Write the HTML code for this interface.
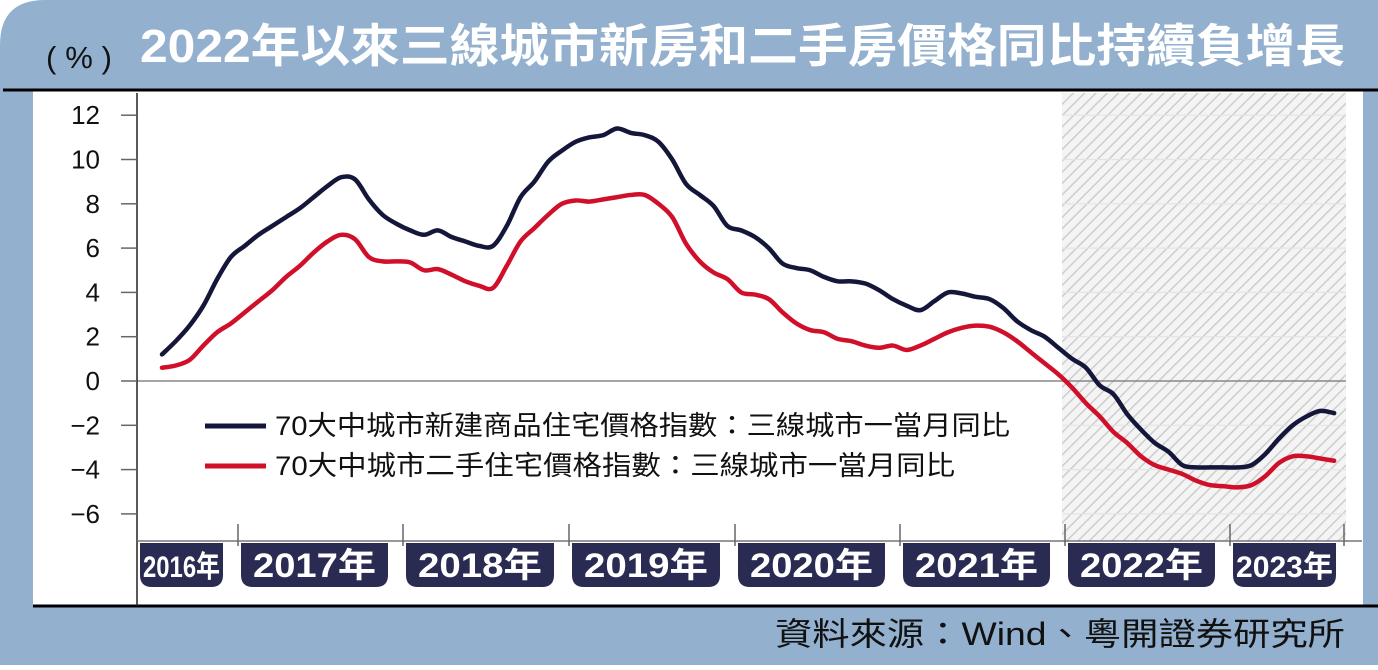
<!DOCTYPE html>
<html><head><meta charset="utf-8"><style>
body{margin:0;width:1378px;height:665px;overflow:hidden;background:#fff;font-family:"Liberation Sans","Noto Sans CJK TC",sans-serif}
</style></head><body>
<svg width="1378" height="665" viewBox="0 0 1378 665">
<defs><pattern id="hatch" width="8" height="8" patternUnits="userSpaceOnUse" patternTransform="rotate(45)"><rect width="8" height="8" fill="#f4f4f4"/><line x1="0" y1="0" x2="0" y2="8" stroke="#cdcdcd" stroke-width="3"/></pattern></defs>
<path d="M0,665 L0,45 Q0,0 45,0 L1378,0 L1378,665 Z" fill="#93b1cf"/>
<rect x="33" y="91" width="1330" height="515" fill="#fff"/>
<line x1="3" y1="90" x2="1378" y2="90" stroke="#000" stroke-width="3"/>
<line x1="33" y1="606" x2="1378" y2="606" stroke="#000" stroke-width="3"/>
<text x="46" y="68" font-size="31" fill="#111" textLength="66" lengthAdjust="spacing">(%)</text>
<text x="140" y="62" font-size="46" font-weight="bold" fill="#fff" textLength="1205" lengthAdjust="spacingAndGlyphs">2022年以來三線城市新房和二手房價格同比持續負增長</text>
<text x="1345" y="645" font-size="32" fill="#111" text-anchor="end" textLength="570" lengthAdjust="spacingAndGlyphs">資料來源：Wind、粵開證券研究所</text>
<rect x="1062" y="93" width="284" height="448" fill="url(#hatch)"/>
<g id="grid"></g>
<line x1="137" y1="93" x2="137" y2="606" stroke="#222" stroke-width="1.5"/>
<line x1="137" y1="541" x2="1362" y2="541" stroke="#777" stroke-width="1.5"/>
<g id="yt"></g><g id="xl"></g><g id="series"></g>
<g>
<line x1="205" y1="426" x2="266" y2="426" stroke="#15173a" stroke-width="5"/>
<text x="275" y="435" font-size="27" fill="#111" textLength="735" lengthAdjust="spacingAndGlyphs">70大中城市新建商品住宅價格指數：三線城市一當月同比</text>
<line x1="205" y1="466" x2="266" y2="466" stroke="#d0102a" stroke-width="5"/>
<text x="275" y="475" font-size="27" fill="#111" textLength="680" lengthAdjust="spacingAndGlyphs">70大中城市二手住宅價格指數：三線城市一當月同比</text>
</g>
</svg>
<script>
const yTicks=[12,10,8,6,4,2,0,-2,-4,-6];
const yearLabels=["2016年","2017年","2018年","2019年","2020年","2021年","2022年","2023年"];
const newHome=[1.2,1.8,2.5,3.4,4.6,5.6,6.1,6.6,7.0,7.4,7.8,8.3,8.8,9.2,9.1,8.2,7.5,7.1,6.8,6.6,6.8,6.5,6.3,6.1,6.1,7.0,8.3,9.0,9.9,10.4,10.8,11.0,11.1,11.4,11.2,11.1,10.8,10.0,8.9,8.4,7.9,7.0,6.8,6.5,6.0,5.3,5.1,5.0,4.7,4.5,4.5,4.4,4.1,3.7,3.4,3.2,3.6,4.0,3.95,3.8,3.7,3.3,2.7,2.3,2.0,1.5,1.0,0.6,-0.2,-0.6,-1.5,-2.2,-2.8,-3.2,-3.8,-3.9,-3.9,-3.9,-3.9,-3.8,-3.3,-2.6,-2.0,-1.6,-1.35,-1.45];
const secondHand=[0.6,0.7,0.95,1.6,2.2,2.6,3.1,3.6,4.1,4.7,5.2,5.8,6.3,6.6,6.4,5.6,5.4,5.4,5.35,5.0,5.05,4.8,4.5,4.3,4.2,5.2,6.3,6.9,7.5,8.0,8.15,8.1,8.2,8.3,8.4,8.4,8.0,7.4,6.2,5.4,4.9,4.6,4.0,3.9,3.7,3.1,2.6,2.3,2.2,1.9,1.8,1.6,1.5,1.6,1.4,1.6,1.9,2.2,2.4,2.5,2.45,2.2,1.8,1.3,0.8,0.3,-0.3,-1.0,-1.6,-2.3,-2.8,-3.4,-3.8,-4.0,-4.2,-4.5,-4.7,-4.75,-4.8,-4.7,-4.3,-3.7,-3.4,-3.4,-3.5,-3.6];
const NS="http://www.w3.org/2000/svg";
const yS=v=>381-v*22.15;
const xS=i=>162+i*13.79;
const yearX=[137,238,403,569,735,900,1065,1230,1344];
function mk(t,a){const e=document.createElementNS(NS,t);for(const k in a)e.setAttribute(k,a[k]);return e;}
const yt=document.getElementById('yt'),grid=document.getElementById('grid');
yTicks.forEach(v=>{
  const y=yS(v);
  const l=mk('line',{x1:121,y1:y,x2:137,y2:y,stroke:'#666','stroke-width':1.5});
  
  
  yt.appendChild(l);
  const t=mk('text',{x:100,y:y+9,'font-size':26,'text-anchor':'end',fill:'#111'});
  t.textContent=v<0?'\u2212'+(-v):String(v);
  
  
  yt.appendChild(t);
  const g=mk('line',{x1:v===0?137:1062,y1:y,x2:1346,y2:y,stroke:v===0?'#888':'#e4e4e4','stroke-width':v===0?1.5:1.2});
  
  
  grid.appendChild(g);
});
const xl=document.getElementById('xl');
yearX.forEach((x,i)=>{
  if(i>0){const tk=mk('line',{x1:x,y1:524,x2:x,y2:546,stroke:'#666','stroke-width':1.5});
  
  
  xl.appendChild(tk);}
});
yearLabels.forEach((lab,i)=>{
  const a=yearX[i]+3,b=yearX[i+1]-(i===7?8:15);
  const w=b-a,h=44,y=543,r=12;
  const p=mk('path',{d:`M${a},${y} L${b},${y} L${b},${y+h-r} Q${b},${y+h} ${b-r},${y+h} L${a+r},${y+h} Q${a},${y+h} ${a},${y+h-r} Z`,fill:'#2a2b52'});
  
  
  xl.appendChild(p);
  const narrow=(i===0||i===7);
  const t=mk('text',{x:(a+b)/2,y:y+34,'font-size':narrow?30:34,'font-weight':'bold','text-anchor':'middle',fill:'#fff',textLength:w-(narrow?6:24),lengthAdjust:'spacingAndGlyphs'});
  t.textContent=lab;
  
  
  xl.appendChild(t);
});
function smooth(vals){
  const pts=vals.map((v,i)=>[xS(i),yS(v)]);
  let d=`M${pts[0][0]},${pts[0][1]}`;
  for(let i=0;i<pts.length-1;i++){
    const p0=pts[i-1]||pts[i],p1=pts[i],p2=pts[i+1],p3=pts[i+2]||p2;
    d+=` C${p1[0]+(p2[0]-p0[0])/6},${p1[1]+(p2[1]-p0[1])/6} ${p2[0]-(p3[0]-p1[0])/6},${p2[1]-(p3[1]-p1[1])/6} ${p2[0]},${p2[1]}`;
  }
  return d;
}
const sg=document.getElementById('series');
const s2=mk('path',{d:smooth(secondHand),fill:'none',stroke:'#d0102a','stroke-width':4.5,'stroke-linejoin':'round','stroke-linecap':'round'});


sg.appendChild(s2);
const s1=mk('path',{d:smooth(newHome),fill:'none',stroke:'#15173a','stroke-width':4.5,'stroke-linejoin':'round','stroke-linecap':'round'});


sg.appendChild(s1);
</script>
</body></html>
